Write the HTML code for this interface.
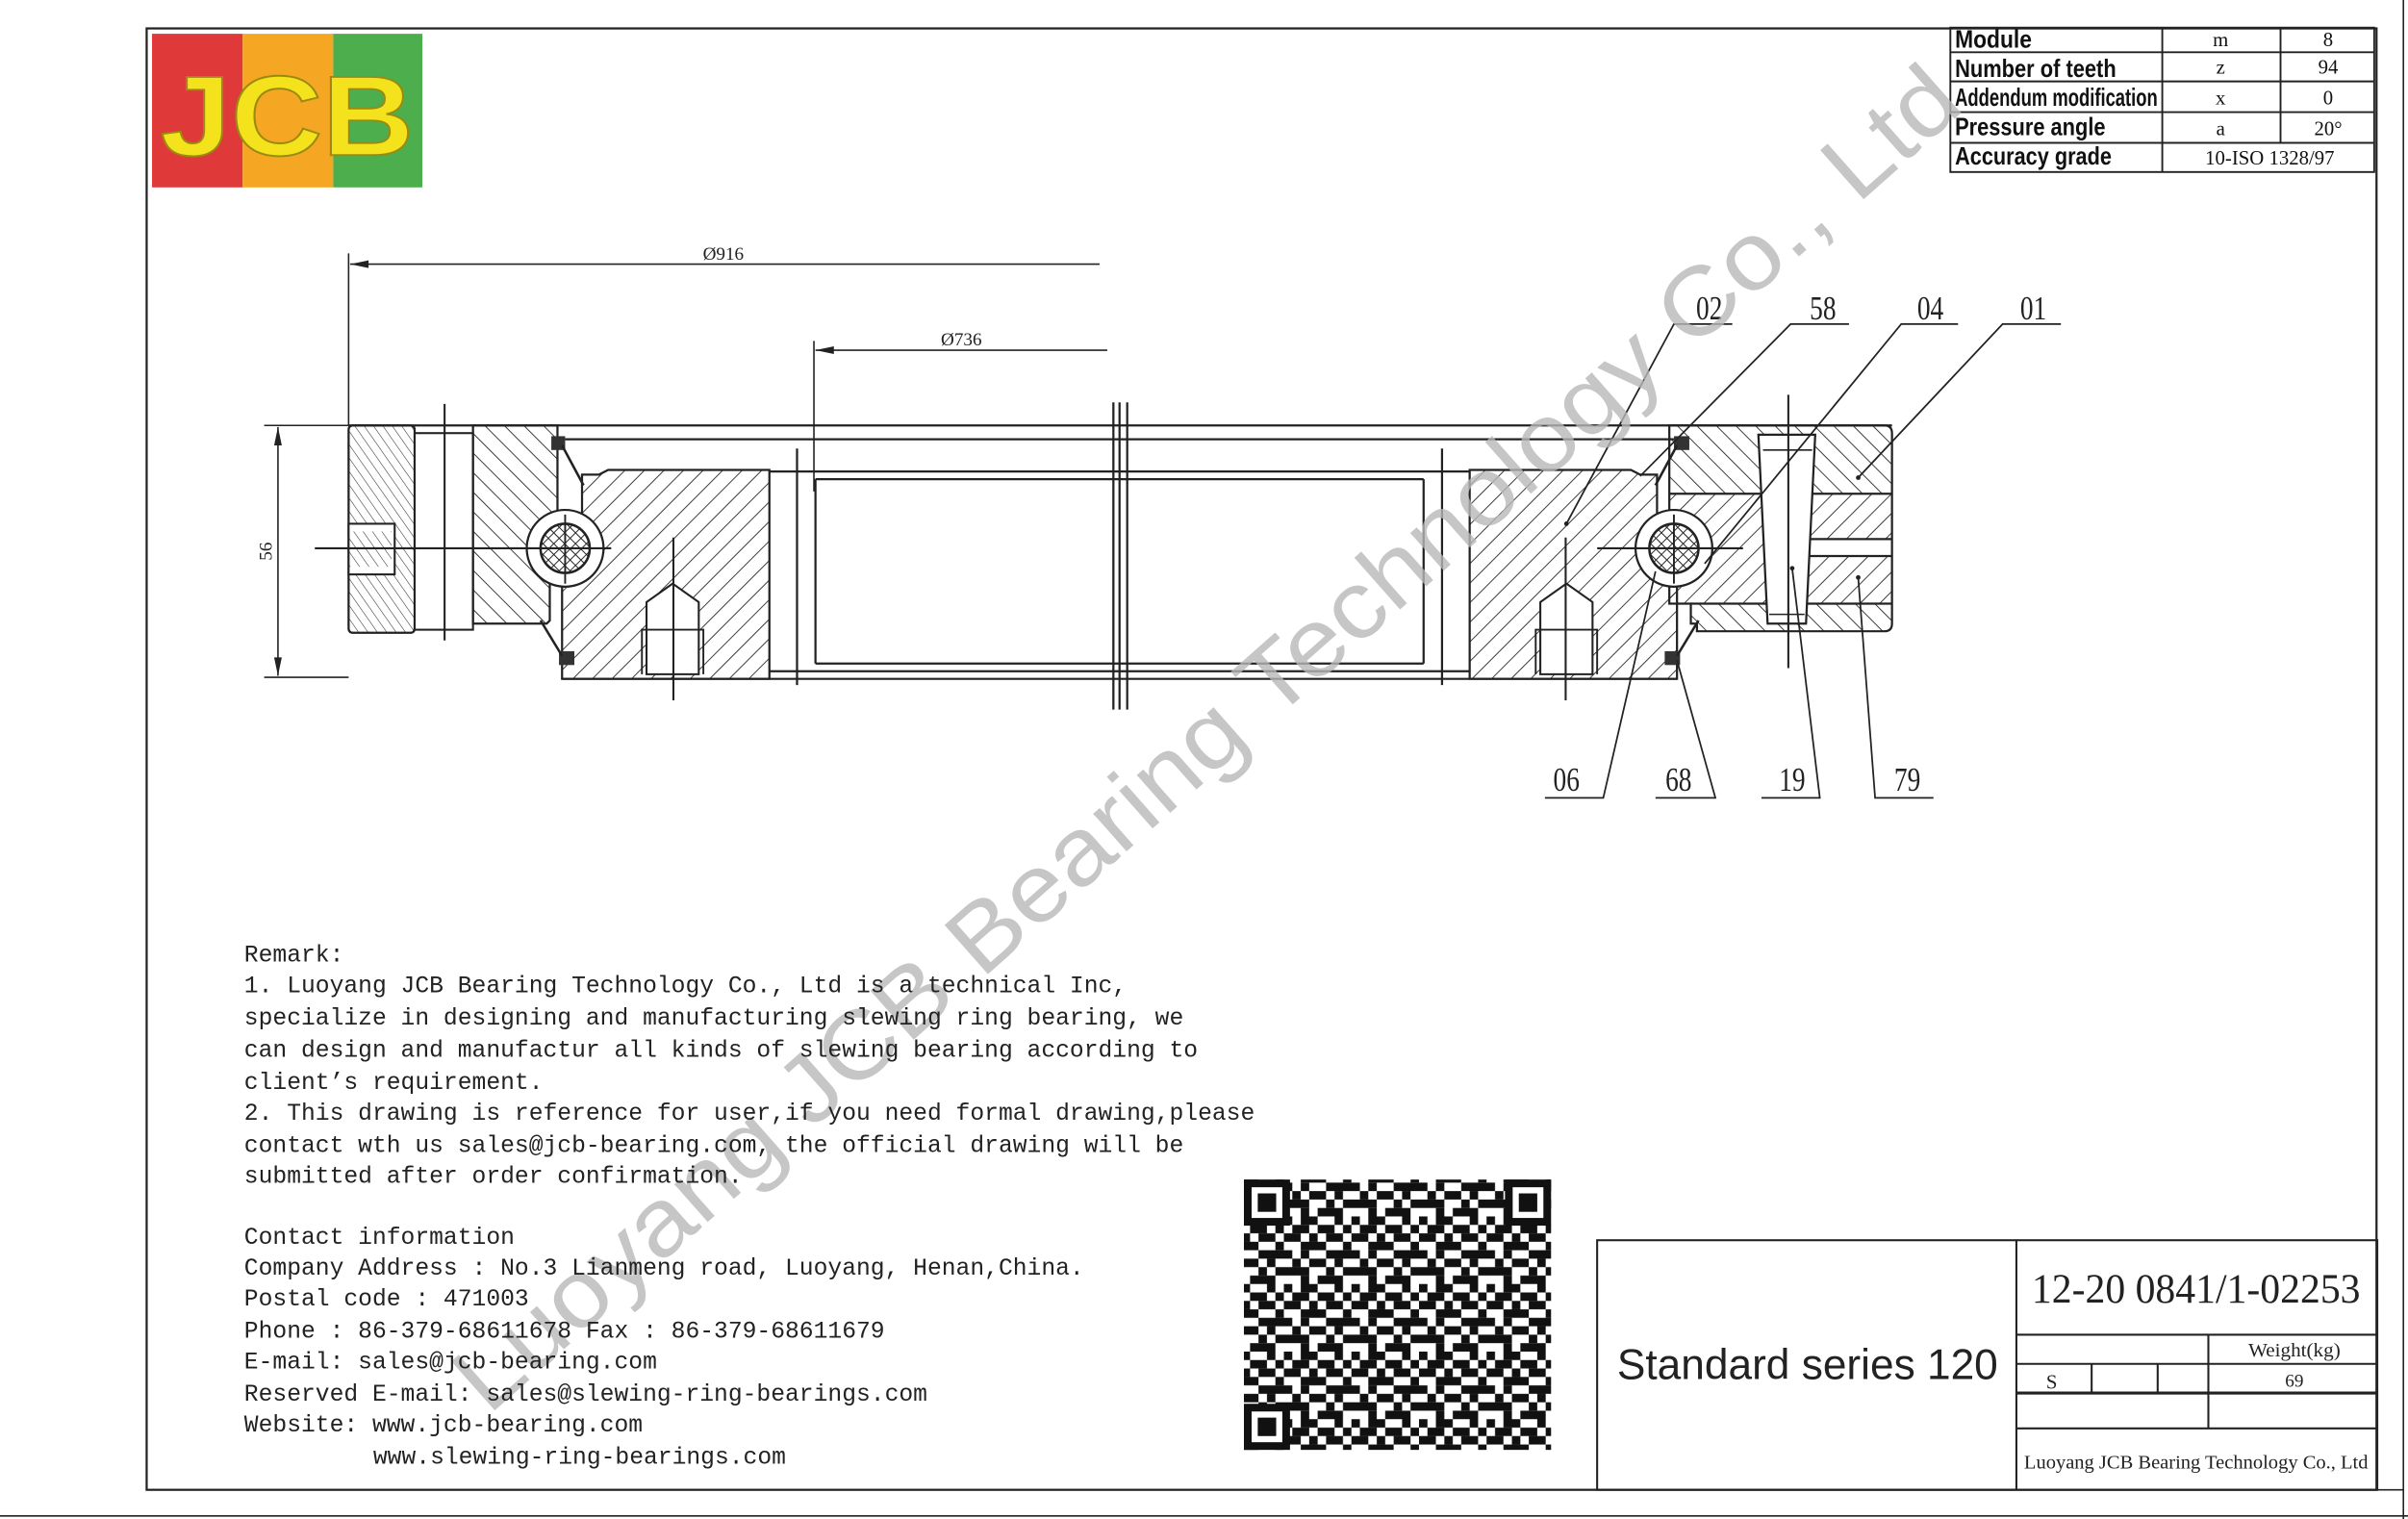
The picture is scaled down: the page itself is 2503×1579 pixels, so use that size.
<!DOCTYPE html>
<html><head><meta charset="utf-8"><style>
html,body{margin:0;padding:0;background:#fff;}
svg{display:block;}
.t{font-family:"Liberation Serif",serif;}
.m{font-family:"Liberation Mono",monospace;font-size:15.45px;fill:#222;}
.s{font-family:"Liberation Sans",sans-serif;}
</style></head><body>
<svg width="2503" height="1579" viewBox="0 0 1568 989" preserveAspectRatio="none" xmlns="http://www.w3.org/2000/svg">
<defs>
<pattern id="hA" width="9" height="9" patternUnits="userSpaceOnUse" patternTransform="rotate(-45)"><line x1="0" y1="0" x2="0" y2="9" stroke="#222" stroke-width="1.1"/></pattern>
<pattern id="hB" width="9" height="9" patternUnits="userSpaceOnUse" patternTransform="rotate(45)"><line x1="0" y1="0" x2="0" y2="9" stroke="#222" stroke-width="1.1"/></pattern>
<pattern id="hF" width="5" height="5" patternUnits="userSpaceOnUse" patternTransform="rotate(-35)"><line x1="0" y1="0" x2="0" y2="5" stroke="#333" stroke-width="0.7"/></pattern>
<pattern id="hX" width="5" height="5" patternUnits="userSpaceOnUse" patternTransform="rotate(45)"><path d="M0 0V5M0 0H5" stroke="#222" stroke-width="1.2"/></pattern>
<pattern id="qr" width="44" height="44" patternUnits="userSpaceOnUse">
<g fill="#111">
<rect x="0" y="0" width="5.5" height="5.5"/><rect x="11" y="0" width="11" height="5.5"/><rect x="33" y="0" width="5.5" height="5.5"/>
<rect x="5.5" y="5.5" width="11" height="5.5"/><rect x="22" y="5.5" width="11" height="5.5"/><rect x="38.5" y="5.5" width="5.5" height="5.5"/>
<rect x="0" y="11" width="11" height="5.5"/><rect x="16.5" y="11" width="5.5" height="5.5"/><rect x="27.5" y="11" width="11" height="5.5"/>
<rect x="11" y="16.5" width="16.5" height="5.5"/><rect x="38.5" y="16.5" width="5.5" height="5.5"/>
<rect x="0" y="22" width="5.5" height="5.5"/><rect x="11" y="22" width="5.5" height="5.5"/><rect x="27.5" y="22" width="16.5" height="5.5"/>
<rect x="5.5" y="27.5" width="5.5" height="5.5"/><rect x="16.5" y="27.5" width="11" height="5.5"/><rect x="33" y="27.5" width="5.5" height="5.5"/>
<rect x="0" y="33" width="16.5" height="5.5"/><rect x="27.5" y="33" width="5.5" height="5.5"/><rect x="38.5" y="33" width="5.5" height="5.5"/>
<rect x="11" y="38.5" width="5.5" height="5.5"/><rect x="22" y="38.5" width="16.5" height="5.5"/>
</g></pattern>
</defs>

<g fill="none" stroke="#222">
<rect x="95.5" y="18.5" width="1452" height="951.5" stroke-width="1.4"/>
<line x1="1565" y1="0" x2="1565" y2="989" stroke-width="1"/>
<line x1="0" y1="987" x2="1568" y2="987" stroke-width="1"/>
<line x1="1548" y1="970" x2="1565" y2="970" stroke-width="1"/>
</g>

<rect x="99" y="22" width="59" height="100" fill="#e0393a"/>
<rect x="158" y="22" width="59" height="100" fill="#f5a623"/>
<rect x="217" y="22" width="58" height="100" fill="#4cae4c"/>
<text x="187" y="101" text-anchor="middle" class="s" font-size="74" font-weight="bold" fill="#f3e21c" stroke="#9a8a10" stroke-width="1.2" textLength="165" lengthAdjust="spacingAndGlyphs">JCB</text>

<g stroke="#222" stroke-width="1.2" fill="none">
<rect x="1270" y="18" width="276" height="94"/>
<line x1="1270" y1="34" x2="1546" y2="34"/><line x1="1270" y1="53" x2="1546" y2="53"/>
<line x1="1270" y1="73" x2="1546" y2="73"/><line x1="1270" y1="93" x2="1546" y2="93"/>
<line x1="1408" y1="18" x2="1408" y2="112"/><line x1="1485" y1="18" x2="1485" y2="93"/>
</g>
<g class="s" font-size="16" fill="#111" font-weight="bold">
<text x="1273" y="31" textLength="50" lengthAdjust="spacingAndGlyphs">Module</text>
<text x="1273" y="50" textLength="105" lengthAdjust="spacingAndGlyphs">Number of teeth</text>
<text x="1273" y="69" textLength="132" lengthAdjust="spacingAndGlyphs">Addendum modification</text>
<text x="1273" y="88" textLength="98" lengthAdjust="spacingAndGlyphs">Pressure angle</text>
<text x="1273" y="107" textLength="102" lengthAdjust="spacingAndGlyphs">Accuracy grade</text>
</g>
<g class="t" font-size="13" fill="#111" text-anchor="middle">
<text x="1446" y="30">m</text><text x="1516" y="30">8</text>
<text x="1446" y="48">z</text><text x="1516" y="48">94</text>
<text x="1446" y="68">x</text><text x="1516" y="68">0</text>
<text x="1446" y="88">a</text><text x="1516" y="88">20°</text>
<text x="1478" y="107">10-ISO 1328/97</text>
</g>

<g stroke="#222" stroke-width="1" fill="none">
<line x1="227" y1="165" x2="227" y2="277"/>
<line x1="228" y1="172" x2="716" y2="172"/>
<line x1="530" y1="222" x2="530" y2="320"/>
<line x1="531" y1="228" x2="721" y2="228"/>
<line x1="172" y1="277" x2="227" y2="277"/>
<line x1="172" y1="441" x2="227" y2="441"/>
<line x1="181" y1="278" x2="181" y2="440"/>
</g>
<g fill="#222">
<path d="M228 172 l12 -2.5 v5z"/>
<path d="M531 228 l12 -2.5 v5z"/>
<path d="M181 278 l-2.5 12 h5z"/>
<path d="M181 440 l-2.5 -12 h5z"/>
</g>
<text x="471" y="169" class="t" font-size="12" fill="#222" text-anchor="middle">Ø916</text>
<text x="626" y="225" class="t" font-size="12" fill="#222" text-anchor="middle">Ø736</text>
<text transform="translate(177,359) rotate(-90)" class="t" font-size="12" fill="#222" text-anchor="middle">56</text>

<g stroke="#222" stroke-width="1.4" fill="none">
<line x1="227" y1="277" x2="1232" y2="277"/>
<line x1="368" y1="286" x2="1090" y2="286"/>
<line x1="366" y1="442" x2="1092" y2="442"/>
<line x1="501" y1="307" x2="957" y2="307"/>
<line x1="531" y1="312" x2="927" y2="312"/>
<line x1="501" y1="437" x2="957" y2="437"/>
<line x1="531" y1="432" x2="927" y2="432"/>
<line x1="531" y1="312" x2="531" y2="432"/>
<line x1="927" y1="312" x2="927" y2="432"/>
<line x1="519" y1="292" x2="519" y2="446"/>
<line x1="939" y1="292" x2="939" y2="446"/>
<line x1="725" y1="262" x2="725" y2="462"/>
<line x1="729" y1="262" x2="729" y2="462"/>
<line x1="734" y1="262" x2="734" y2="462"/>
</g>

<path d="M230 277 H267 Q270 277 270 280 V409 Q270 412 267 412 H230 Q227 412 227 409 V280 Q227 277 230 277Z" fill="url(#hF)" stroke="#222" stroke-width="1.4"/>
<rect x="227" y="341" width="30" height="33" fill="#fff" stroke="#222" stroke-width="1.3"/>
<rect x="227" y="346" width="28" height="23" fill="url(#hF)" stroke="none"/>
<rect x="270" y="282" width="38" height="128" fill="#fff" stroke="#222" stroke-width="1.3"/>
<path d="M308 277 H363 V335 L358 345 V404 L356 406 H308Z" fill="url(#hA)" stroke="#222" stroke-width="1.4"/>
<path d="M501 306 H396 L390 309 H379 V337 L366 377 V442 H501Z" fill="url(#hB)" stroke="#222" stroke-width="1.4"/>
<path d="M421 439 V392 L438 380 L455 392 V439Z" fill="#fff" stroke="#222" stroke-width="1.3"/>
<path d="M418 439 V410 H458 V439" fill="none" stroke="#222" stroke-width="1.2"/>
<line x1="438.5" y1="350" x2="438.5" y2="456" stroke="#222" stroke-width="1.3"/>
<line x1="289.5" y1="263" x2="289.5" y2="417" stroke="#222" stroke-width="1.3"/>
<circle cx="368" cy="357" r="25" fill="#fff" stroke="#222" stroke-width="1.4"/>
<circle cx="368" cy="357" r="16" fill="url(#hX)" stroke="#222" stroke-width="1.6"/>
<line x1="205" y1="357" x2="398" y2="357" stroke="#222" stroke-width="1.3"/>
<line x1="368" y1="335" x2="368" y2="380" stroke="#222" stroke-width="1.2"/>
<rect x="359" y="284" width="9" height="9" fill="#333"/>
<path d="M366 290 L380 316" stroke="#222" stroke-width="1.6"/>
<rect x="364" y="424" width="10" height="9" fill="#333"/>
<path d="M366 427 L352 404" stroke="#222" stroke-width="1.6"/>

<path d="M957 306 H1062 L1068 309 H1079 V337 L1092 377 V442 H957Z" fill="url(#hB)" stroke="#222" stroke-width="1.4"/>
<path d="M1003 439 V392 L1020 380 L1037 392 V439Z" fill="#fff" stroke="#222" stroke-width="1.3"/>
<path d="M1000 439 V410 H1040 V439" fill="none" stroke="#222" stroke-width="1.2"/>
<line x1="1019.5" y1="350" x2="1019.5" y2="456" stroke="#222" stroke-width="1.3"/>
<rect x="1087" y="277" width="145" height="44" fill="url(#hA)"/>
<rect x="1087" y="321" width="145" height="72" fill="url(#hB)"/>
<rect x="1101" y="393" width="131" height="18" fill="url(#hA)"/>
<rect x="1178" y="351" width="54" height="11" fill="#fff"/>
<g stroke="#222" stroke-width="1.4" fill="none">
<path d="M1087 277 H1227 Q1232 277 1232 282 V406 Q1232 411 1227 411 H1105 V406 H1101 V393 H1087 Z"/>
<line x1="1087" y1="321.5" x2="1232" y2="321.5"/>
<line x1="1101" y1="393" x2="1232" y2="393"/>
<line x1="1178" y1="351" x2="1232" y2="351"/>
<line x1="1178" y1="362" x2="1232" y2="362"/>
</g>
<path d="M1145 283 H1182 L1176 406 H1151Z" fill="#fff" stroke="#222" stroke-width="1.4"/>
<line x1="1148" y1="293" x2="1180" y2="293" stroke="#222" stroke-width="1"/>
<line x1="1152" y1="400" x2="1175" y2="400" stroke="#222" stroke-width="1"/>
<line x1="1164.5" y1="257" x2="1164.5" y2="435" stroke="#222" stroke-width="1.3"/>
<circle cx="1090" cy="357" r="25" fill="#fff" stroke="#222" stroke-width="1.4"/>
<circle cx="1090" cy="357" r="16" fill="url(#hX)" stroke="#222" stroke-width="1.6"/>
<line x1="1040" y1="357" x2="1135" y2="357" stroke="#222" stroke-width="1.3"/>
<line x1="1090" y1="335" x2="1090" y2="380" stroke="#222" stroke-width="1.2"/>
<rect x="1090" y="284" width="10" height="9" fill="#333"/>
<path d="M1092 290 L1078 316" stroke="#222" stroke-width="1.6"/>
<rect x="1084" y="424" width="10" height="9" fill="#333"/>
<path d="M1092 427 L1106 404" stroke="#222" stroke-width="1.6"/>

<g stroke="#222" stroke-width="1.1" fill="none">
<path d="M1128 211 H1090 L1020 341"/>
<path d="M1204 211 H1166 L1068 310"/>
<path d="M1275 211 H1238 L1110 367"/>
<path d="M1342 211 H1304 L1210 311"/>
<path d="M1006 519.5 H1044 L1078 372"/>
<path d="M1078 519.5 H1117 L1092 430"/>
<path d="M1147 519.5 H1185 L1167 370"/>
<path d="M1259 519.5 H1221 L1210 376"/>
</g>
<g fill="#222"><circle cx="1020" cy="341" r="1.5"/><circle cx="1210" cy="311" r="1.5"/><circle cx="1167" cy="370" r="1.5"/><circle cx="1210" cy="376" r="1.5"/></g>
<g class="t" font-size="22" fill="#222" text-anchor="middle">
<text transform="translate(1113,208) scale(0.78,1)">02</text>
<text transform="translate(1187,208) scale(0.78,1)">58</text>
<text transform="translate(1257,208) scale(0.78,1)">04</text>
<text transform="translate(1324,208) scale(0.78,1)">01</text>
<text transform="translate(1020,515) scale(0.78,1)">06</text>
<text transform="translate(1093,515) scale(0.78,1)">68</text>
<text transform="translate(1167,515) scale(0.78,1)">19</text>
<text transform="translate(1242,515) scale(0.78,1)">79</text>
</g>

<text transform="translate(318,922) rotate(-41.5)" class="s" font-size="62" fill="#b8b8b8" fill-opacity="0.8" textLength="1285" lengthAdjust="spacingAndGlyphs">Luoyang JCB Bearing Technology Co., Ltd</text>

<g class="m">
<text x="159" y="626">Remark:</text>
<text x="159" y="646">1. Luoyang JCB Bearing Technology Co., Ltd is a technical Inc,</text>
<text x="159" y="667">specialize in designing and manufacturing slewing ring bearing, we</text>
<text x="159" y="688">can design and manufactur all kinds of slewing bearing according to</text>
<text x="159" y="709">client’s requirement.</text>
<text x="159" y="729">2. This drawing is reference for user,if you need formal drawing,please</text>
<text x="159" y="750">contact wth us sales@jcb-bearing.com, the official drawing will be</text>
<text x="159" y="770">submitted after order confirmation.</text>
<text x="159" y="810">Contact information</text>
<text x="159" y="830">Company Address : No.3 Lianmeng road, Luoyang, Henan,China.</text>
<text x="159" y="850">Postal code : 471003</text>
<text x="159" y="871">Phone : 86-379-68611678 Fax : 86-379-68611679</text>
<text x="159" y="891">E-mail: sales@jcb-bearing.com</text>
<text x="159" y="912">Reserved E-mail: sales@slewing-ring-bearings.com</text>
<text x="159" y="932">Website: www.jcb-bearing.com</text>
<text x="243" y="953">www.slewing-ring-bearings.com</text>
</g>

<rect x="810" y="768" width="200" height="176" fill="url(#qr)"/>
<g fill="#111">
<rect x="810" y="768" width="30" height="30"/><rect x="815" y="773" width="20" height="20" fill="#fff"/><rect x="819" y="777" width="12" height="12"/>
<rect x="980" y="768" width="30" height="30"/><rect x="985" y="773" width="20" height="20" fill="#fff"/><rect x="989" y="777" width="12" height="12"/>
<rect x="810" y="914" width="30" height="30"/><rect x="815" y="919" width="20" height="20" fill="#fff"/><rect x="819" y="923" width="12" height="12"/>
</g>

<g stroke="#222" stroke-width="1.3" fill="none">
<rect x="1040" y="807.5" width="508" height="162.5"/>
<line x1="1313" y1="807" x2="1313" y2="970"/>
<line x1="1313" y1="869" x2="1548" y2="869"/>
<line x1="1313" y1="888" x2="1548" y2="888"/>
<line x1="1313" y1="907" x2="1548" y2="907" stroke-width="2"/>
<line x1="1313" y1="930" x2="1548" y2="930"/>
<line x1="1438" y1="869" x2="1438" y2="930"/>
<line x1="1362" y1="888" x2="1362" y2="907"/>
<line x1="1405" y1="888" x2="1405" y2="907"/>
</g>
<text x="1177" y="898" class="s" font-size="28" fill="#222" text-anchor="middle" textLength="248" lengthAdjust="spacingAndGlyphs">Standard series 120</text>
<text x="1430" y="848" class="t" font-size="27" fill="#222" text-anchor="middle" textLength="214" lengthAdjust="spacingAndGlyphs">12-20 0841/1-02253</text>
<text x="1494" y="883" class="t" font-size="12.5" fill="#222" text-anchor="middle" textLength="60" lengthAdjust="spacingAndGlyphs">Weight(kg)</text>
<text x="1336" y="904" class="t" font-size="13" fill="#222" text-anchor="middle">S</text>
<text x="1494" y="903" class="t" font-size="12" fill="#222" text-anchor="middle">69</text>
<text x="1430" y="956" class="t" font-size="12.5" fill="#222" text-anchor="middle" textLength="224" lengthAdjust="spacingAndGlyphs">Luoyang JCB Bearing Technology Co., Ltd</text>
</svg>
</body></html>
